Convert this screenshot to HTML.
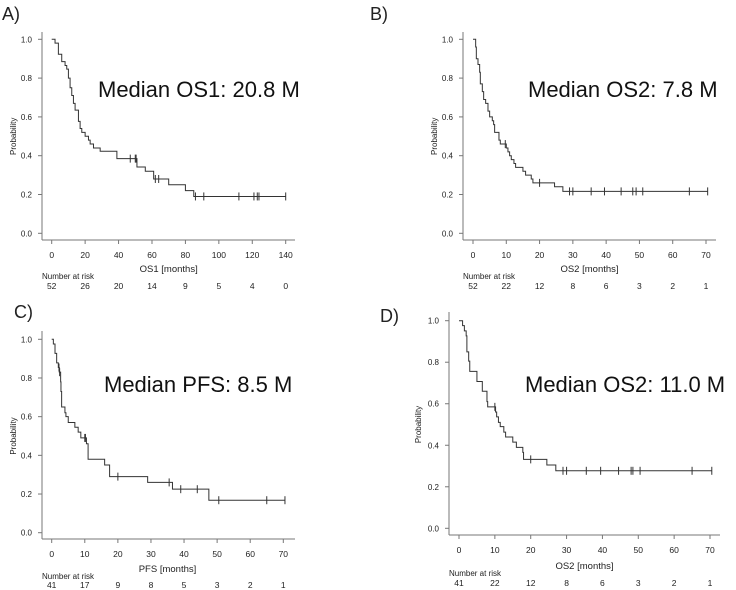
<!DOCTYPE html>
<html><head><meta charset="utf-8">
<style>
html,body{margin:0;padding:0;background:#fff;}
svg{display:block;font-family:"Liberation Sans",Arial,sans-serif;}
</style></head>
<body>
<svg id="fig" width="736" height="590" viewBox="0 0 736 590" xmlns="http://www.w3.org/2000/svg"></svg>
<script>
// ---- Panel A data (OS1) ----
const aTimes = [0,2,4,6,8,9,10,11,12,13,14,16,17,18,20,22,23,25,29,39,51,56,61,70,80,85];
const aSurv  = [1,0.98,0.923,0.885,0.865,0.846,0.80,0.75,0.71,0.67,0.635,0.577,0.54,0.52,0.50,0.48,0.46,0.44,0.423,0.385,0.342,0.32,0.28,0.25,0.22,0.19];
const aCens  = [47,50,50.5,62,64,86,91,112,121,123,124,140];
const aTicks = [0,20,40,60,80,100,120,140];
const aRisk  = [52,26,20,14,9,5,4,0];
// ---- Panel B data (OS2) ----
const bTimes = [0,0.8,1,1.5,2,2.2,2.8,3.2,3.8,4.5,5,5.8,6.2,6.5,7.8,8.2,10,10.5,11,11.5,12.3,12.8,15,15.8,17.5,18,24.5,27];
const bSurv  = [1,0.96,0.90,0.87,0.83,0.77,0.73,0.69,0.67,0.63,0.60,0.58,0.56,0.52,0.48,0.46,0.44,0.42,0.40,0.38,0.36,0.34,0.32,0.30,0.28,0.26,0.24,0.216];
const bCens  = [9.7,20,29,30,35.5,39.5,44.5,48,49,51,65,70.5];
const bTicks = [0,10,20,30,40,50,60,70];
const bRisk  = [52,22,12,8,6,3,2,1];
// ---- Panel C data (PFS) ----
const cTimes = [0,0.5,1,1.5,2,2.3,2.7,2.8,3,4,4.3,5,7,8,8.8,10.5,11,16,17.5,29,36.5,47.5];
const cSurv  = [1,0.976,0.927,0.878,0.854,0.83,0.78,0.73,0.65,0.62,0.60,0.57,0.545,0.52,0.49,0.46,0.38,0.35,0.29,0.26,0.225,0.168];
const cCens  = [2.2,2.4,10,10.2,20,35.5,39,44,50.5,65,70.5];
const cTicks = [0,10,20,30,40,50,60,70];
const cRisk  = [41,17,9,8,5,3,2,1];
// ---- Panel D data (OS2) ----
const dTimes = [0,1,1.5,2,2.2,2.7,3,5,6.5,7.8,8,10.2,10.5,11,11.5,12.5,13,15,16,17.8,18,24.5,27];
const dSurv  = [1,0.976,0.951,0.927,0.85,0.805,0.756,0.707,0.66,0.61,0.585,0.56,0.537,0.51,0.49,0.463,0.44,0.415,0.39,0.366,0.332,0.305,0.277];
const dCens  = [10,20,29,30,35.5,39.5,44.5,48,48.5,50.5,65,70.5];
const dTicks = [0,10,20,30,40,50,60,70];
const dRisk  = [41,22,12,8,6,3,2,1];
const yTicks = [0,0.2,0.4,0.6,0.8,1.0];

const NS = "http://www.w3.org/2000/svg";
const fig = document.getElementById('fig');
function mk(tag, attrs, parent){
  const e = document.createElementNS(NS, tag);
  for (const k in attrs) e.setAttribute(k, attrs[k]);
  (parent||fig).appendChild(e);
  return e;
}
function txt(s, x, y, size, anchor, parent){
  const t = mk('text', {x:x, y:y, 'font-size':size, 'text-anchor':anchor||'middle', fill:'#222'}, parent);
  t.textContent = s;
  return t;
}

function panel(p){
  const g = mk('g', {});
  
  
  const xs = v => p.x0 + (v - p.tickVals[0]) / (p.tickVals[p.tickVals.length-1] - p.tickVals[0]) * (p.x1 - p.x0);
  const ys = v => p.y0 - v * (p.y0 - p.y1);
  const L = txt(p.letter, p.lx, p.ly, 18, 'start', g);
  
  
  const ya = mk('line', {x1:p.ax, y1:p.ayTop, x2:p.ax, y2:p.axY, stroke:'#777', 'stroke-width':1}, g);
  
  
  const xa = mk('line', {x1:p.ax, y1:p.axY, x2:p.axRight, y2:p.axY, stroke:'#777', 'stroke-width':1}, g);
  
  
  yTicks.forEach(v => {
    const y = ys(v);
    mk('line', {x1:p.ax-4, y1:y, x2:p.ax, y2:y, stroke:'#777'}, g);
    const t = txt(v.toFixed(1), p.ax-10, y+3, 8, 'end', g);
    
    
  });
  p.tickVals.forEach((v, i) => {
    const x = xs(v);
    mk('line', {x1:x, y1:p.axY, x2:x, y2:p.axY+4, stroke:'#777'}, g);
    const t = txt(String(v), x, p.axY+18, 8.5, 'middle', g);
    
    
    const r = txt(String(p.risk[i]), x, p.riskY, 8.5, 'middle', g);
    
    
  });
  const xl = txt(p.xlabel, (p.x0+p.x1)/2, p.xlabY, 9.5, 'middle', g);
  
  
  const nl = txt('Number at risk', p.ax, p.nlY, 8, 'start', g);
  
  
  const yl = txt('Probability', 0, 0, 8, 'middle', g);
  yl.setAttribute('transform', `translate(${p.ylx},${(p.y0+p.y1)/2}) rotate(-90)`);
  
  
  let d = `M${xs(p.times[0])},${ys(p.surv[0])}`;
  for (let i = 1; i < p.times.length; i++){
    d += ` H${xs(p.times[i])} V${ys(p.surv[i])}`;
  }
  const tEnd = Math.max(p.times[p.times.length-1], ...p.cens);
  d += ` H${xs(tEnd)}`;
  const c = mk('path', {d:d, fill:'none', stroke:'#333', 'stroke-width':1}, g);
  
  
  p.cens.forEach(t => {
    let s = p.surv[0];
    for (let i = 0; i < p.times.length; i++) if (p.times[i] <= t) s = p.surv[i];
    const x = xs(t), y = ys(s);
    const m = mk('line', {x1:x, y1:y-4, x2:x, y2:y+4, stroke:'#333', 'stroke-width':1}, g);
    
    
  });
  const md = txt(p.median, p.mx, p.my, 22, 'start', g);
  md.setAttribute('fill', '#111');
  
  
}

panel({name:'panel-a-os1', letter:'A)', lx:2, ly:20, times:aTimes, surv:aSurv, cens:aCens, tickVals:aTicks, risk:aRisk,
  x0:51.7, x1:285.7, y0:233.3, y1:39.3, ax:42, axRight:295, ayTop:32, axY:240,
  xlabel:'OS1 [months]', xlabY:272, nlY:279, riskY:289, ylx:16, median:'Median OS1: 20.8 M', mx:98, my:97});
panel({name:'panel-b-os2', letter:'B)', lx:370, ly:20, times:bTimes, surv:bSurv, cens:bCens, tickVals:bTicks, risk:bRisk,
  x0:473, x1:706, y0:233.3, y1:39.3, ax:463, axRight:716, ayTop:32, axY:240,
  xlabel:'OS2 [months]', xlabY:272, nlY:279, riskY:289, ylx:437, median:'Median OS2: 7.8 M', mx:528, my:97});
panel({name:'panel-c-pfs', letter:'C)', lx:14, ly:318, times:cTimes, surv:cSurv, cens:cCens, tickVals:cTicks, risk:cRisk,
  x0:51.7, x1:283.3, y0:532.7, y1:339.3, ax:42, axRight:295, ayTop:331, axY:539,
  xlabel:'PFS [months]', xlabY:572, nlY:579, riskY:588, ylx:16, median:'Median PFS: 8.5 M', mx:104, my:392});
panel({name:'panel-d-os2', letter:'D)', lx:380, ly:322, times:dTimes, surv:dSurv, cens:dCens, tickVals:dTicks, risk:dRisk,
  x0:459, x1:710, y0:528.3, y1:320.7, ax:449, axRight:720, ayTop:312, axY:535,
  xlabel:'OS2 [months]', xlabY:569, nlY:576, riskY:586, ylx:421, median:'Median OS2: 11.0 M', mx:525, my:392});
</script>
</body></html>
